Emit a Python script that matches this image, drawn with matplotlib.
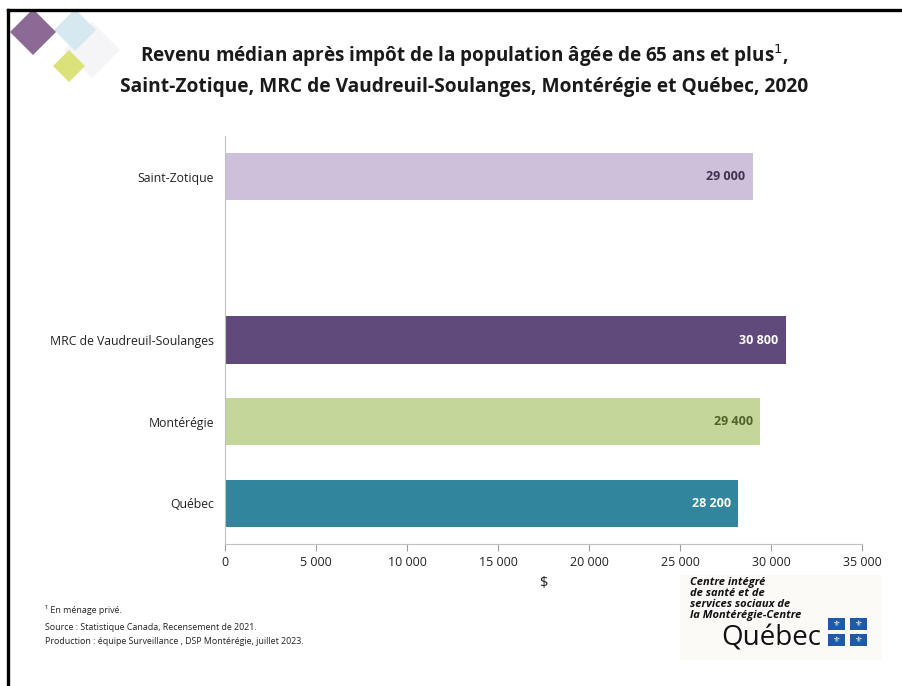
import matplotlib.pyplot as plt
from matplotlib.patches import Polygon, Rectangle
from matplotlib.lines import Line2D
from matplotlib.ticker import FuncFormatter

# données
categories = ["Saint-Zotique", "", "MRC de Vaudreuil-Soulanges", "Montérégie", "Québec"]
values = [29000, None, 30800, 29400, 28200]
bar_colors = ["#CCC0DA", "#FFFFFF", "#604A7B", "#C4D79B", "#31859C"]
label_colors = ["#3F3151", "#FFFFFF", "#FFFFFF", "#4F6228", "#FFFFFF"]
x_ticks = [0, 5000, 10000, 15000, 20000, 25000, 30000, 35000]

plt.rcParams['font.family'] = ['Open Sans', 'DejaVu Sans']

W, H = 902, 686
fig = plt.figure(figsize=(W / 100, H / 100), dpi=100)

def fx(px):
    return px / W

def fy(py):
    return 1 - py / H

# cadre
fig.add_artist(Line2D([fx(8), 1], [fy(10), fy(10)], color="black", lw=2.4))
fig.add_artist(Line2D([fx(8), fx(8)], [fy(10), 0], color="black", lw=2.4))

# losanges décoratifs
def diamond(cx, cy, r, color, alpha=1.0):
    pts = [(fx(cx), fy(cy - r)), (fx(cx + r), fy(cy)), (fx(cx), fy(cy + r)), (fx(cx - r), fy(cy))]
    fig.add_artist(Polygon(pts, closed=True, facecolor=color, edgecolor="none", alpha=alpha))

diamond(92, 50, 28, "#F5F5F8")
diamond(75, 30, 21, "#D6E9F0")
diamond(33, 32, 23, "#8B6A96")
diamond(69, 66, 16, "#DCE27A")

# titre
fig.text(0.515, fy(56), "Revenu médian après impôt de la population âgée de 65 ans et plus$^{1}$,",
         ha="center", va="center", fontsize=13.6, fontweight="bold", color="#1a1a1a")
fig.text(0.515, fy(87), "Saint-Zotique, MRC de Vaudreuil-Soulanges, Montérégie et Québec, 2020",
         ha="center", va="center", fontsize=13.8, fontweight="bold", color="#1a1a1a")

ax = fig.add_axes([fx(225), fy(544), fx(862) - fx(225), fy(136) - fy(544)])
ypos = list(range(len(categories)))
for i, (v, c) in enumerate(zip(values, bar_colors)):
    if v is None:
        continue
    ax.barh(i, v, height=0.58, color=c, edgecolor="none")
    ax.text(v - 400, i, f"{v:,}".replace(",", " "), ha="right", va="center",
            fontsize=9, fontweight="bold", color=label_colors[i])

ax.set_ylim(len(categories) - 0.5, -0.5)
ax.set_xlim(0, 35000)
ax.set_yticks(ypos)
ax.set_yticklabels(categories, fontsize=8.8, color="#222222")
ax.tick_params(axis="y", length=0, pad=8)
ax.set_xticks(x_ticks)
ax.xaxis.set_major_formatter(FuncFormatter(lambda v, p: f"{int(v):,}".replace(",", " ")))
ax.tick_params(axis="x", length=5, color="#A0A0A0", labelsize=9, labelcolor="#222222", pad=4)
for s in ["top", "right"]:
    ax.spines[s].set_visible(False)
ax.spines["left"].set_color("#C0C0C0")
ax.spines["bottom"].set_color("#C0C0C0")
ax.set_xlabel("$", fontsize=10.5, labelpad=5, color="#222222")

# notes
fig.text(fx(45), fy(610), "¹ En ménage privé.", fontsize=6.4, va="center", color="#222222")
fig.text(fx(45), fy(627), "Source : Statistique Canada, Recensement de 2021.", fontsize=6.4, va="center",
         color="#222222")
fig.text(fx(45), fy(642), "Production : équipe Surveillance , DSP Montérégie, juillet 2023.", fontsize=6.4,
         va="center", color="#222222")

# logo
fig.add_artist(Rectangle((fx(680), fy(660)), fx(882) - fx(680), fy(575) - fy(660),
                         facecolor="#FBFAF7", edgecolor="none"))
fig.text(fx(690), fy(577), "Centre intégré\nde santé et de\nservices sociaux de\nla Montérégie-Centre",
         ha="left", va="top", fontsize=8, fontweight="bold", style="italic", linespacing=0.98,
         color="#111111")
fig.text(fx(721), fy(639), "Québec", ha="left", va="center", fontsize=20, color="#111111")
for (sx, sy) in [(828, 618), (850, 618), (828, 634), (850, 634)]:
    fig.add_artist(Rectangle((fx(sx), fy(sy + 12)), fx(17), fy(0) - fy(12),
                             facecolor="#1F5AA6", edgecolor="none"))
    fig.text(fx(sx + 8.5), fy(sy + 6), "⚜", ha="center", va="center", fontsize=6,
             color="white", family="DejaVu Sans")

fig.savefig("out.png", dpi=100)
